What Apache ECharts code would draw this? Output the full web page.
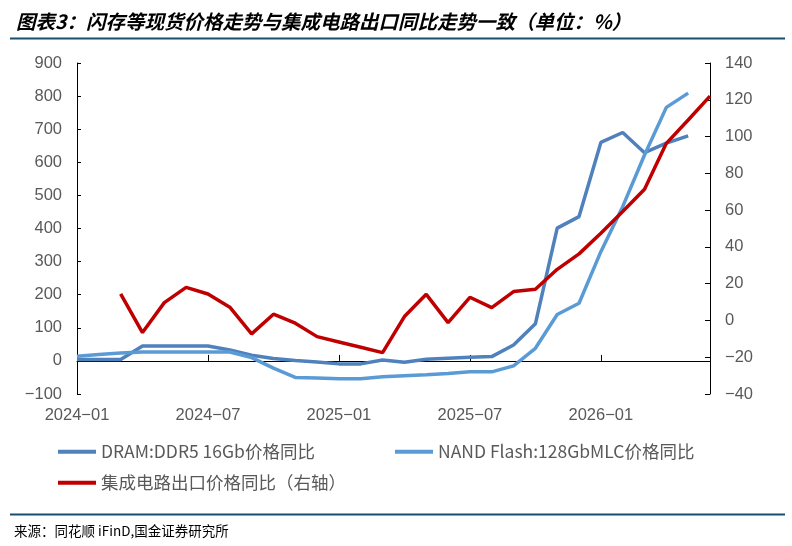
<!DOCTYPE html>
<html>
<head>
<meta charset="utf-8">
<script src="https://cdn.jsdelivr.net/npm/echarts@6/dist/echarts.min.js"></script>
<style>
  html, body { margin: 0; background: #fff; }
  #chart { width: 792px; height: 546px; }
</style>
</head>
<body>
<div id="chart"></div>
<script>
// monthly categories, Jan 2024 – Jun 2026
const months = [
  '2024-01', '2024-02', '2024-03', '2024-04', '2024-05', '2024-06',
  '2024-07', '2024-08', '2024-09', '2024-10', '2024-11', '2024-12',
  '2025-01', '2025-02', '2025-03', '2025-04', '2025-05', '2025-06',
  '2025-07', '2025-08', '2025-09', '2025-10', '2025-11', '2025-12',
  '2026-01', '2026-02', '2026-03', '2026-04', '2026-05', '2026-06',
];

const names = ['DRAM:DDR5 16Gb价格同比', 'NAND Flash:128GbMLC价格同比', '集成电路出口价格同比（右轴）'];

// left axis (%)
const dram = [
  4, 4, 4, 45, 45, 45, 45, 33, 17, 7, 1, -3,
  -9, -9, 3, -4, 5, 8, 11, 13, 48, 112, 401, 436,
  660, 690, 629, 658, 680, null,
];
const nand = [
  14, 19, 24, 27, 27, 27, 27, 27, 10, -22, -50, -52,
  -54, -54, -48, -45, -42, -38, -33, -33, -15, 38, 140, 174,
  330, 466, 622, 766, 809, null,
];
// right axis (%)
const icExport = [
  null, null, 14.4, -6.6, 9.7, 18, 14.4, 7.2, -7.3, 3.4, -1.5, -8.8,
  -11.7, -14.6, -17.5, 2.1, 14.2, -1.2, 12.6, 7, 15.7, 17, 27.8, 36.2,
  47.4, 59.2, 71.3, 96.3, 109, 122,
];

const COLORS = ['#4F81BD', '#5B9BD5', '#C00000'];
const RULE = '#1A4D72';
const AXIS_TEXT = { color: '#595959', fontFamily: 'Liberation Sans', fontSize: 16.5 };
const BLACK = { color: '#000', width: 1 };
const minus = v => String(v).replace('-', '\u2212');

const LEGEND = {
  icon: 'rect', itemWidth: 38, itemHeight: 4, padding: 0,
  textStyle: { color: '#595959', fontFamily: 'Noto Sans CJK SC', fontSize: 17.5 },
};

const chart = echarts.init(document.getElementById('chart'), null, { renderer: 'canvas' });
chart.setOption({
  animation: false,
  color: COLORS,
  title: {
    text: '图表3：闪存等现货价格走势与集成电路出口同比走势一致（单位：%）',
    left: 16, top: 12, padding: 0,
    textStyle: { fontFamily: 'Noto Sans CJK SC', fontSize: 19.5, fontWeight: 'bold', fontStyle: 'italic', color: '#000' },
  },
  grid: { left: 77, right: 82, top: 63, bottom: 152 },
  legend: [
    { ...LEGEND, data: [names[0]], left: 58, top: 443 },
    { ...LEGEND, data: [names[1]], left: 395, top: 443 },
    { ...LEGEND, data: [names[2]], left: 58, top: 474 },
  ],
  xAxis: [
    {
      type: 'category', data: months, boundaryGap: false,
      axisLine: { show: false }, axisTick: { show: false },
      axisLabel: { ...AXIS_TEXT, interval: 5, margin: 13, formatter: minus },
    },
    {
      type: 'category', data: months, boundaryGap: false, position: 'top',
      axisLine: { onZero: true, onZeroAxisIndex: 0, lineStyle: BLACK },
      axisTick: { interval: 5, length: 6, lineStyle: BLACK },
      axisLabel: { show: false },
    },
  ],
  yAxis: [
    {
      type: 'value', min: -100, max: 900, interval: 100,
      axisLine: { show: true, lineStyle: BLACK },
      axisTick: { show: true, inside: true, length: 4, lineStyle: BLACK },
      splitLine: { show: false },
      axisLabel: { ...AXIS_TEXT, margin: 15, formatter: minus },
    },
    {
      type: 'value', min: -40, max: 140, interval: 20, position: 'right',
      axisLine: { show: true, lineStyle: BLACK },
      axisTick: { show: true, inside: true, length: 5, lineStyle: BLACK },
      splitLine: { show: false },
      axisLabel: { ...AXIS_TEXT, margin: 15, formatter: minus },
    },
  ],
  graphic: [
    { type: 'line', shape: { x1: 10, y1: 38.5, x2: 785, y2: 38.5 }, style: { stroke: RULE, lineWidth: 2 } },
    { type: 'line', shape: { x1: 10, y1: 514.5, x2: 785, y2: 514.5 }, style: { stroke: RULE, lineWidth: 2 } },
    {
      type: 'text', left: 14, top: 524,
      style: { text: '来源：同花顺 iFinD,国金证券研究所', fill: '#000', font: '13.5px "Noto Sans CJK SC"' },
    },
  ],
  series: [
    { name: names[0], type: 'line', data: dram, symbol: 'none', lineStyle: { width: 3.5 } },
    { name: names[1], type: 'line', data: nand, symbol: 'none', lineStyle: { width: 3.5 } },
    { name: names[2], type: 'line', yAxisIndex: 1, data: icExport, symbol: 'none', lineStyle: { width: 3.5 } },
  ],
});
</script>
</body>
</html>
